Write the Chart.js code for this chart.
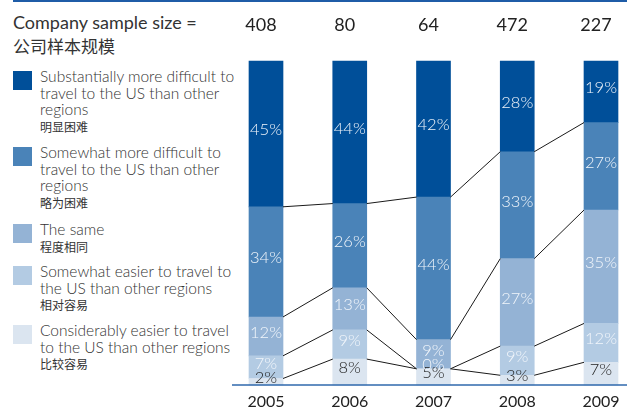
<!DOCTYPE html>
<html>
<head>
<meta charset="utf-8">
<script src="https://cdn.jsdelivr.net/npm/chart.js@4.4.1/dist/chart.umd.min.js"></script>
<style>
  body { margin: 0; width: 627px; height: 409px; overflow: hidden; background: #fff; position: relative; }
  #topline { position: absolute; left: 13px; top: 0; width: 614px; height: 2px; background: #1f5ca7; }
  .head { position: absolute; left: 13px; color: #333; white-space: nowrap; }
  #head-en { top: 11px; font: 18px Lato, sans-serif; line-height: 22px; }
  #head-zh { top: 35px; font: 17px "Noto Sans CJK SC", sans-serif; line-height: 22px; }
  #legend { position: absolute; left: 13px; top: 0; }
  .item { position: absolute; left: 0; white-space: nowrap; }
  .swatch { position: absolute; left: 0; top: 2.5px; width: 19px; height: 19px; }
  .txt { position: absolute; left: 27px; top: 0; color: #333; font: 300 15.5px Lato, sans-serif; line-height: 16.5px; }
  .zh { font: 12px "Noto Sans CJK SC", sans-serif; line-height: 18px; color: #333; }
  canvas { position: absolute; left: 0; top: 0; }
</style>
</head>
<body>
<div id="topline"></div>
<div class="head" id="head-en">Company sample size =</div>
<div class="head" id="head-zh">公司样本规模</div>
<div id="legend"></div>
<canvas id="chart" width="627" height="409"></canvas>
<script>
const years = ['2005', '2006', '2007', '2008', '2009'];
const sampleSizes = ['408', '80', '64', '472', '227'];

// shares in %, bottom of the stack first
const considerablyEasier = [2, 8, 5, 3, 7];
const somewhatEasier = [7, 9, 0, 9, 12];
const theSame = [12, 13, 9, 27, 35];
const somewhatHarder = [34, 26, 44, 33, 27];
const substantiallyHarder = [45, 44, 42, 28, 19];

const seriesNames = [
  ['Considerably easier to travel', 'to the US than other regions'],
  ['Somewhat easier to travel to', 'the US than other regions'],
  ['The same'],
  ['Somewhat more difficult to', 'travel to the US than other', 'regions'],
  ['Substantially more difficult to', 'travel to the US than other', 'regions'],
];
const seriesNamesZh = ['比较容易', '相对容易', '程度相同', '略为困难', '明显困难'];

const colors = ['#dbe5f0', '#b3cbe3', '#94b3d5', '#4a83b8', '#004f99'];
const legendTops = [322, 263, 221, 144, 68];

const values = [considerablyEasier, somewhatEasier, theSame, somewhatHarder, substantiallyHarder];

// html legend (multi-line, bilingual)
const legend = document.getElementById('legend');
seriesNames.forEach((lines, i) => {
  const item = document.createElement('div');
  item.className = 'item';
  item.style.top = legendTops[i] + 'px';
  item.innerHTML =
    `<div class="swatch" style="background:${colors[i]}"></div>` +
    `<div class="txt">${lines.join('<br>')}<div class="zh">${seriesNamesZh[i]}</div></div>`;
  legend.appendChild(item);
});

const connectors = {
  id: 'connectors',
  afterDatasetsDraw(chart) {
    const { ctx, chartArea } = chart;
    const metas = chart.data.datasets.map((d, i) => chart.getDatasetMeta(i));

    ctx.save();
    // baseline
    const first = metas[0].data[0];
    ctx.strokeStyle = '#2f68ad';
    ctx.lineWidth = 1.5;
    ctx.beginPath();
    ctx.moveTo(first.x - first.width, chartArea.bottom);
    ctx.lineTo(chart.width, chartArea.bottom);
    ctx.stroke();

    // lines joining the segment tops from bar to bar
    ctx.strokeStyle = '#1a1a1a';
    ctx.lineWidth = 1;
    for (let s = 0; s < metas.length - 1; s++) {
      const bars = metas[s].data;
      for (let i = 0; i < bars.length - 1; i++) {
        const a = bars[i], b = bars[i + 1];
        ctx.beginPath();
        ctx.moveTo(a.x + a.width / 2, a.y);
        ctx.lineTo(b.x - b.width / 2, b.y);
        ctx.stroke();
      }
    }

    // percentage labels
    ctx.font = '300 16.5px Lato, sans-serif';
    ctx.textAlign = 'center';
    ctx.textBaseline = 'middle';
    metas.forEach((meta, s) => {
      ctx.fillStyle = s === 0 ? '#222' : '#f2f6fb';
      meta.data.forEach((bar, i) => {
        ctx.fillText(values[s][i] + '%', bar.x, (bar.y + bar.base) / 2 - 4);
      });
    });
    ctx.restore();
  }
};

// fixed axis band heights, no extra room for edge labels
const fitTo = h => scale => {
  scale.height = h;
  scale.paddingLeft = 0;
  scale.paddingRight = 0;
};

new Chart(document.getElementById('chart'), {
  type: 'bar',
  data: {
    labels: years,
    datasets: values.map((v, i) => ({
      label: seriesNames[i].join(' '),
      data: v,
      backgroundColor: colors[i],
      borderWidth: 0,
      barThickness: 34,
    })),
  },
  options: {
    responsive: false,
    animation: false,
    layout: { padding: { left: 266, right: 26, top: 0, bottom: 0 } },
    plugins: {
      legend: { display: false },
      tooltip: { enabled: false },
    },
    datasets: { bar: { clip: false } },
    scales: {
      x: {
        stacked: true,
        offset: false,
        grid: { display: false, drawTicks: false },
        border: { display: false },
        ticks: { color: '#222', padding: 7, font: { family: 'Lato', size: 16 } },
        afterFit: fitTo(24),
      },
      x2: {
        type: 'category',
        labels: sampleSizes,
        position: 'top',
        offset: false,
        grid: { display: false, drawTicks: false },
        border: { display: false },
        ticks: { color: '#222', padding: 25, labelOffset: -5, font: { family: 'Lato', size: 18 } },
        afterFit: fitTo(61),
      },
      y: {
        stacked: true,
        display: false,
        min: 0,
        max: 100,
      },
    },
  },
  plugins: [connectors],
});
</script>
</body>
</html>
